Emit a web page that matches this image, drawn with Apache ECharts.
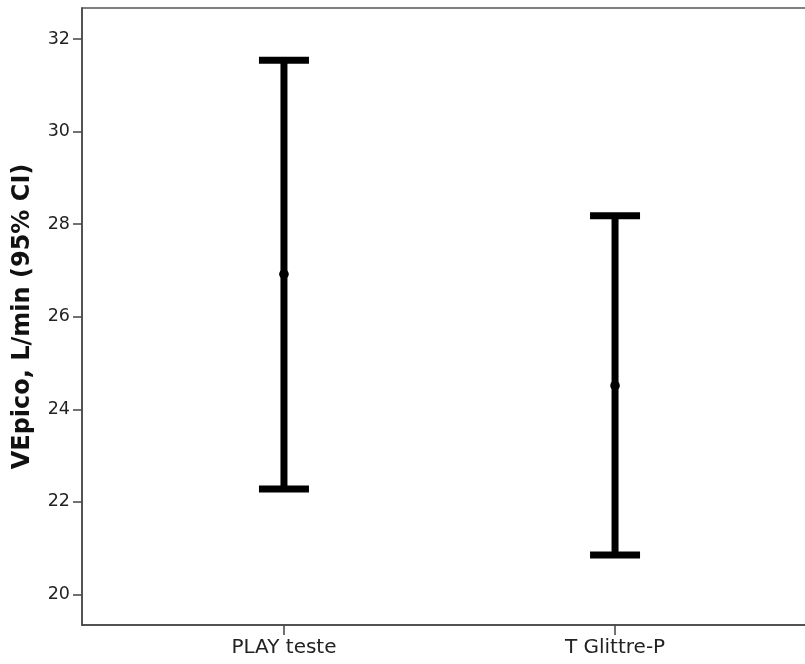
<!DOCTYPE html>
<html>
<head>
<meta charset="utf-8">
<script src="https://cdn.jsdelivr.net/npm/echarts@6/dist/echarts.min.js"></script>
<style>
html,body{margin:0;padding:0;background:#fff;}
#c{width:805px;height:664px;}
</style>
</head>
<body>
<div id="c"></div>
<script>
const categories = ['PLAY teste', 'T Glittre-P'];
const means = [26.92, 24.51];
const lower = [22.28, 20.85];
const upper = [31.54, 28.18];
const yTicks = [20, 22, 24, 26, 28, 30, 32];
const yTitle = 'VEpico, L/min (95% CI)';

const positions = categories.map((c, i) => i + 1);
const data = categories.map((c, i) => [positions[i], lower[i], upper[i], means[i]]);

const chart = echarts.init(document.getElementById('c'));
const FONT = 'DejaVu Sans';
chart.setOption({
  animation: false,
  backgroundColor: '#fff',
  grid: {
    left: 82, top: 8, right: -12, bottom: 39,
    show: true, borderColor: '#555', borderWidth: 1.5,
    containLabel: false, outerBoundsMode: 'none'
  },
  xAxis: {
    type: 'value', min: 0.39, max: 2.61,
    splitLine: {show: false},
    axisLine: {show: true, lineStyle: {color: '#444', width: 1.5}},
    axisTick: {show: true, customValues: positions, length: 10, lineStyle: {color: '#444', width: 1.5}},
    axisLabel: {
      customValues: positions, margin: 13,
      fontFamily: FONT, fontSize: 20, color: '#222',
      formatter: v => categories[Math.round(v) - 1] || ''
    }
  },
  yAxis: {
    type: 'value', min: 19.34, max: 32.67,
    splitLine: {show: false},
    axisLine: {show: true, lineStyle: {color: '#444', width: 1.5}},
    axisTick: {show: true, customValues: yTicks, length: 9, lineStyle: {color: '#444', width: 1.5}},
    axisLabel: {customValues: yTicks, margin: 12, fontFamily: FONT, fontSize: 17.5, color: '#222'},
    name: yTitle, nameLocation: 'middle', nameGap: 47, nameRotate: 90,
    nameTextStyle: {fontFamily: FONT, fontSize: 24, fontWeight: 'bold', color: '#111'}
  },
  series: [{
    type: 'custom',
    data: data,
    encode: {x: 0, y: [1, 2, 3]},
    renderItem: function (params, api) {
      const x = api.value(0);
      const lo = api.coord([x, api.value(1)]);
      const hi = api.coord([x, api.value(2)]);
      const mid = api.coord([x, api.value(3)]);
      const half = 25;
      const style = {stroke: '#000', lineWidth: 7, lineCap: 'butt'};
      return {
        type: 'group',
        children: [
          {type: 'line', shape: {x1: lo[0], y1: lo[1], x2: hi[0], y2: hi[1]}, style: style},
          {type: 'line', shape: {x1: hi[0] - half, y1: hi[1], x2: hi[0] + half, y2: hi[1]}, style: style},
          {type: 'line', shape: {x1: lo[0] - half, y1: lo[1], x2: lo[0] + half, y2: lo[1]}, style: style},
          {type: 'circle', shape: {cx: mid[0], cy: mid[1], r: 4.8}, style: {fill: '#000'}}
        ]
      };
    }
  }]
});
</script>
</body>
</html>
